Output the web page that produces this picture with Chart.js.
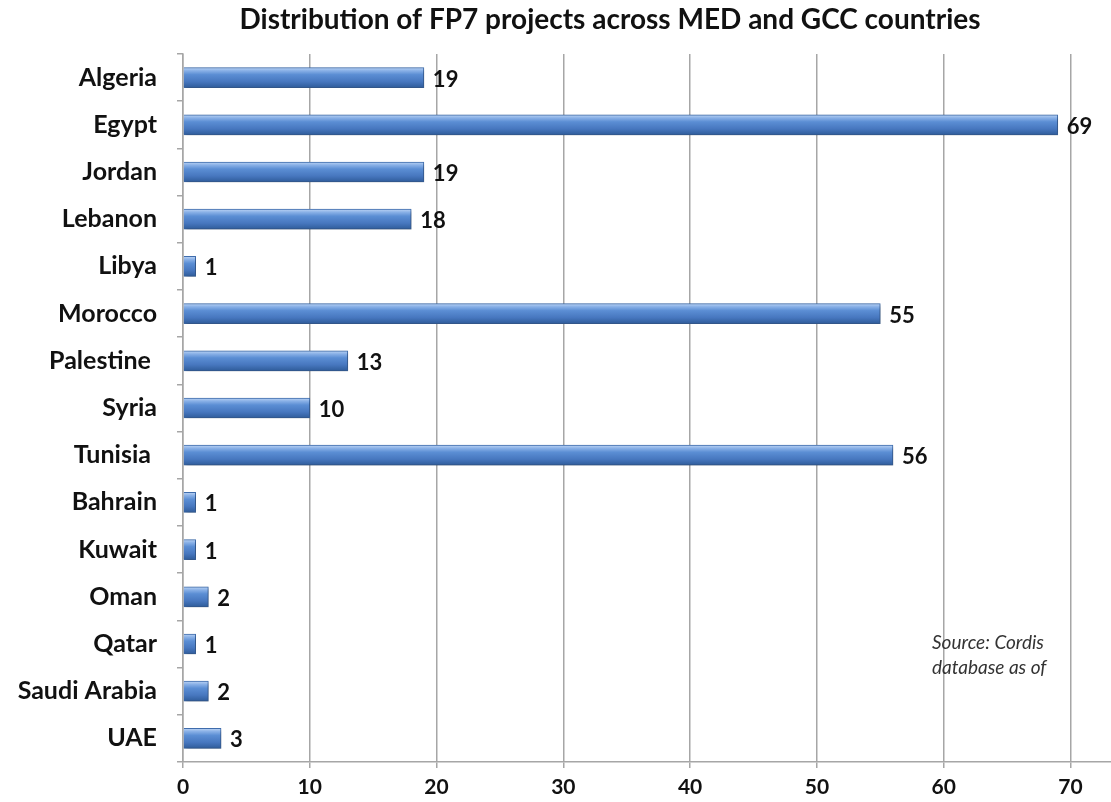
<!DOCTYPE html>
<html>
<head>
<meta charset="utf-8">
<script src="https://cdn.jsdelivr.net/npm/chart.js@4"></script>
<style>
  body { margin:0; background:#fff; }
  #wrap { width:1111px; height:802px; }
</style>
</head>
<body>
<div id="wrap"><canvas id="chart" width="1111" height="802"></canvas></div>
<script>
// ---------- Data ----------
const countries = ['Algeria','Egypt','Jordan','Lebanon','Libya','Morocco','Palestine ','Syria','Tunisia ',
  'Bahrain','Kuwait','Oman','Qatar','Saudi Arabia','UAE'];
const projects = [19, 69, 19, 18, 1, 55, 13, 10, 56, 1, 1, 2, 1, 2, 3];
const xTicks = [0, 10, 20, 30, 40, 50, 60, 70];
const titleText = 'Distribution of FP7 projects across MED and GCC countries';
const sourceLines = ['Source: Cordis', 'database as of'];

const FONT = 'Lato, "Open Sans", sans-serif';
const BAR_H = 20;

// vertical gradient per bar, gives the rounded tube look
function barFill(c){
  const chart = c.chart;
  const ys = chart.scales.y;
  if(!ys || c.dataIndex === undefined) return '#4f81bd';
  const y = ys.getPixelForValue(c.dataIndex);
  if(!isFinite(y)) return '#4f81bd';
  const g = chart.ctx.createLinearGradient(0, y - BAR_H/2, 0, y + BAR_H/2);
  g.addColorStop(0, '#bcd4f4');
  g.addColorStop(0.15, '#8ab1e7');
  g.addColorStop(0.35, '#5b8ed4');
  g.addColorStop(0.7, '#4777bf');
  g.addColorStop(1, '#2f5c9a');
  return g;
}

// ---------- Plugins ----------
const barShadow = {
  id: 'barShadow',
  beforeDatasetDraw(chart){
    const ctx = chart.ctx;
    ctx.save();
    ctx.shadowColor = 'rgba(0,0,0,0.3)';
    ctx.shadowBlur = 4;
    ctx.shadowOffsetX = 2;
    ctx.shadowOffsetY = 2;
  },
  afterDatasetDraw(chart){ chart.ctx.restore(); }
};

const valueLabels = {
  id: 'valueLabels',
  afterDatasetsDraw(chart){
    const ctx = chart.ctx;
    const meta = chart.getDatasetMeta(0);
    ctx.save();
    ctx.font = 'bold 22px ' + FONT;
    ctx.fillStyle = '#111';
    ctx.textAlign = 'left';
    ctx.textBaseline = 'middle';
    meta.data.forEach((bar, i)=>{
      ctx.fillText(String(projects[i]), bar.x + 9, bar.y + 2);
    });
    ctx.restore();
  }
};

const extraText = {
  id: 'extraText',
  afterDraw(chart){
    const ctx = chart.ctx;
    ctx.save();
    ctx.fillStyle = '#111';
    ctx.font = 'bold 28px ' + FONT;
    ctx.textAlign = 'center';
    ctx.textBaseline = 'middle';
    ctx.fillText(titleText, 610, 20);
    ctx.font = 'italic 19px ' + FONT;
    ctx.fillStyle = '#333';
    ctx.textAlign = 'left';
    sourceLines.forEach((s, i)=> ctx.fillText(s, 932, 643 + i*25));
    ctx.restore();
  }
};

// ---------- Chart ----------
const ctx = document.getElementById('chart').getContext('2d');
new Chart(ctx, {
  type: 'bar',
  data: {
    labels: countries,
    datasets: [{
      data: projects,
      backgroundColor: barFill,
      borderColor: '#4170b2',
      borderWidth: 1,
      barThickness: BAR_H
    }]
  },
  options: {
    indexAxis: 'y',
    responsive: false,
    animation: false,
    layout: { padding: { top: 54, left: 0, right: 0, bottom: 0 } },
    plugins: { legend: { display: false }, title: { display: false }, tooltip: { enabled: false } },
    scales: {
      x: {
        min: 0,
        max: 73.2,
        afterBuildTicks: s => { s.ticks = xTicks.map(v => ({ value: v })); },
        afterFit: s => { s.height = 40; },
        grid: { color: '#a6a6a6', lineWidth: 1.5, tickLength: 6 },
        border: { color: '#a6a6a6', width: 1.5 },
        ticks: { color: '#111', padding: 7, font: { family: FONT, size: 21, weight: 'bold' } }
      },
      y: {
        afterFit: s => { s.width = 183; },
        grid: { drawOnChartArea: false, color: '#a6a6a6', lineWidth: 1.5, tickLength: 6 },
        border: { color: '#a6a6a6', width: 1.5 },
        ticks: { color: '#111', padding: 20, font: { family: FONT, size: 25, weight: 'bold' } }
      }
    }
  },
  plugins: [barShadow, valueLabels, extraText]
});
</script>
</body>
</html>
